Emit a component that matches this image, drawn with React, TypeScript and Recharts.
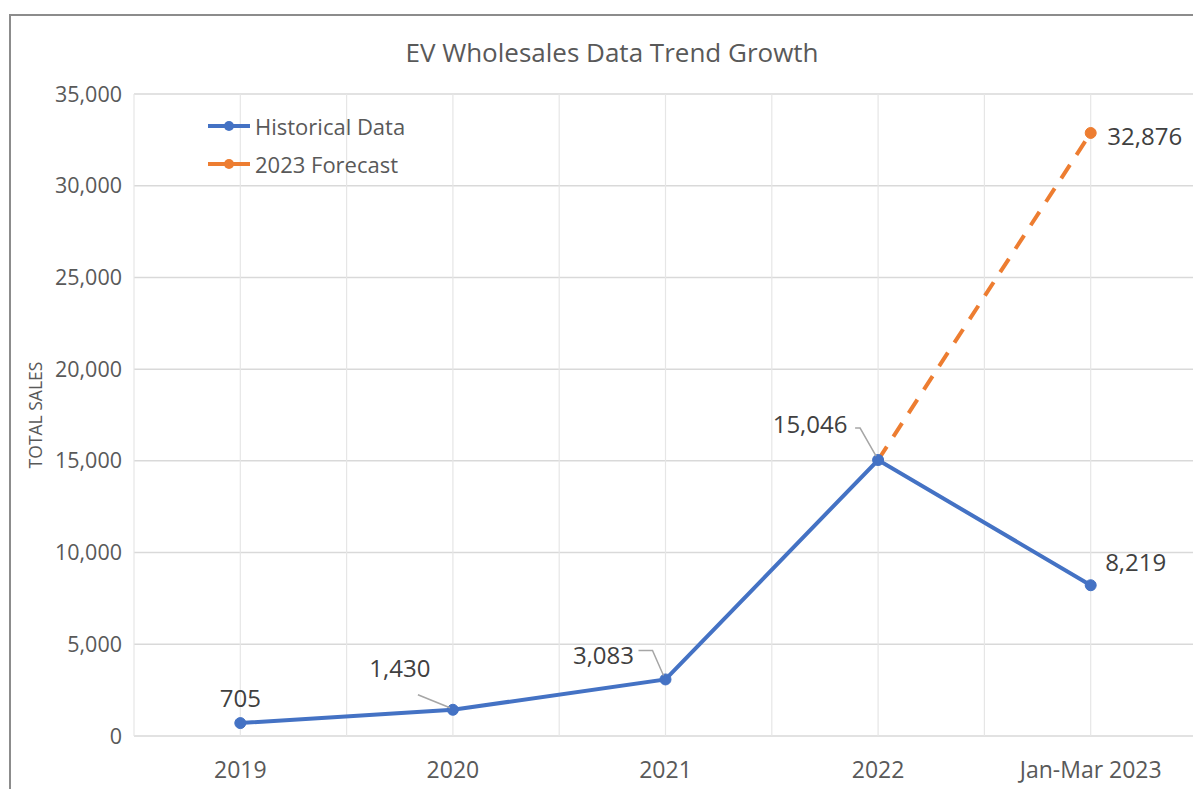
import React from "react";
import { LineChart, Line, XAxis, YAxis, CartesianGrid } from "recharts";

const categories = ["2019", "2020", "2021", "2022", "Jan-Mar 2023"];
const historicalData = [705, 1430, 3083, 15046, 8219];
const forecastData: (number | null)[] = [null, null, null, 15046, 32876];
const yTicks = [0, 5000, 10000, 15000, 20000, 25000, 30000, 35000];
const gridSteps = [-0.5, 0, 0.5, 1, 1.5, 2, 2.5, 3, 3.5, 4, 4.5];
const seriesNames = ["Historical Data", "2023 Forecast"];

const BLUE = "#4472C4";
const ORANGE = "#ED7D31";
const TEXT = "#595959";
const FONT = "'Open Sans', 'Noto Sans', sans-serif";

const data = categories.map((c, i) => ({
  x: i,
  name: c,
  historical: historicalData[i],
  forecast: forecastData[i],
}));

const fmt = (v: number) => v.toLocaleString("en-US");

// label placement (relative offsets) per point index
const histLabelPos: Record<number, { dx: number; dy: number; leader?: number[][] }> = {
  0: { dx: 0, dy: -26 },
  1: { dx: -53, dy: -42, leader: [[-35, -15], [-3, -2]] },
  2: { dx: -62, dy: -25, leader: [[-27, -29], [-13, -29], [-2, -4]] },
  3: { dx: -68, dy: -37, leader: [[-23, -32], [-18, -32], [-2, -4]] },
  4: { dx: 45, dy: -24 },
};
const forecastLabelPos: Record<number, { dx: number; dy: number }> = {
  4: { dx: 54, dy: 3 },
};

const makeLabel = (pos: Record<number, { dx: number; dy: number; leader?: number[][] }>) =>
  (props: any) => {
    const { x, y, value, index } = props;
    const p = pos[index];
    if (!p || value == null) return null;
    return (
      <g>
        {p.leader && (
          <polyline
            points={p.leader.map(([a, b]) => `${x + a},${y + b}`).join(" ")}
            fill="none"
            stroke="#a6a6a6"
            strokeWidth={1.5}
          />
        )}
        <text
          x={x + p.dx}
          y={y + p.dy}
          textAnchor="middle"
          dominantBaseline="central"
          fontSize={24}
          fontFamily={FONT}
          fill="#404040"
        >
          {fmt(value)}
        </text>
      </g>
    );
  };

const HistLabel = makeLabel(histLabelPos);
const ForeLabel = makeLabel(forecastLabelPos);

const forecastDot = (props: any) => {
  const { cx, cy, index } = props;
  if (index !== 4 || cy == null) return <g key={`fd-${index}`} />;
  return <circle key={`fd-${index}`} cx={cx} cy={cy} r={5.5} fill={ORANGE} stroke={ORANGE} />;
};

const LegendBox = () => {
  const colors = [BLUE, ORANGE];
  return (
    <svg width={240} height={80} style={{ display: "block" }}>
      {seriesNames.map((label, i) => (
        <g key={label}>
          <line x1={0} y1={14 + i * 38} x2={42} y2={14 + i * 38} stroke={colors[i]} strokeWidth={4} />
          <circle cx={21} cy={14 + i * 38} r={5} fill={colors[i]} />
          <text
            x={47}
            y={14 + i * 38}
            dominantBaseline="central"
            fontSize={22}
            fontFamily={FONT}
            fill={TEXT}
          >
            {label}
          </text>
        </g>
      ))}
    </svg>
  );
};

const YLabel = (props: any) => {
  const vb = props.viewBox || {};
  const cx = (vb.x || 0) + 27;
  const cy = (vb.y || 0) + (vb.height || 0) / 2;
  return (
    <text
      x={cx}
      y={cy}
      transform={`rotate(-90, ${cx}, ${cy})`}
      textAnchor="middle"
      dominantBaseline="central"
      fontSize={17.5}
      fontFamily={FONT}
      fill={TEXT}
    >
      TOTAL SALES
    </text>
  );
};

export default function App() {
  return (
    <div style={{ position: "relative", width: 1185, height: 781, overflow: "hidden", background: "#fff" }}>
      <div
        style={{
          position: "absolute",
          left: 1,
          top: 6,
          width: 1400,
          height: 900,
          borderLeft: "2px solid #8c8c8c",
          borderTop: "2px solid #8c8c8c",
        }}
      />
      <div
        style={{
          position: "absolute",
          left: 0,
          width: 1208,
          top: 27,
          fontSize: 26,
          lineHeight: "34px",
          textAlign: "center",
          fontFamily: FONT,
          color: TEXT,
        }}
      >
        EV Wholesales Data Trend Growth
      </div>
      <div style={{ position: "absolute", left: 0, top: 0 }}>
        <LineChart width={1193} height={781} data={data} margin={{ top: 86, right: 4, bottom: 0, left: 0 }}>
          <CartesianGrid horizontal={true} vertical={false} stroke="#d9d9d9" strokeWidth={1.5} />
          <CartesianGrid
            horizontal={false}
            vertical={true}
            stroke="#e6e6e6"
            strokeWidth={1.2}
            verticalCoordinatesGenerator={({ offset }: any) =>
              gridSteps.map((s) => offset.left + (offset.width * (s + 0.5)) / categories.length)
            }
          />
          <XAxis
            dataKey="x"
            type="number"
            domain={[-0.5, 4.5]}
            ticks={[0, 1, 2, 3, 4]}
            tickFormatter={(v: number) => categories[v]}
            axisLine={false}
            tickLine={false}
            tickSize={0}
            tickMargin={26}
            height={53}
            tick={{ fontSize: 23, fontFamily: FONT, fill: TEXT }}
            interval={0}
          />
          <YAxis
            type="number"
            domain={[0, 35000]}
            ticks={yTicks}
            tickFormatter={(v: number) => fmt(v)}
            axisLine={false}
            tickLine={false}
            tickSize={0}
            tickMargin={12}
            width={126}
            tick={{ fontSize: 21.5, fontFamily: FONT, fill: TEXT }}
            label={<YLabel />}
            interval={0}
          />
          <Line
            type="linear"
            dataKey="forecast"
            name={seriesNames[1]}
            stroke={ORANGE}
            strokeWidth={4}
            strokeDasharray="16 12"
            dot={forecastDot}
            activeDot={false}
            isAnimationActive={false}
            label={ForeLabel}
            connectNulls={false}
          />
          <Line
            type="linear"
            dataKey="historical"
            name={seriesNames[0]}
            stroke={BLUE}
            strokeWidth={4}
            dot={{ r: 5.5, fill: BLUE, stroke: BLUE, strokeWidth: 1 }}
            activeDot={false}
            isAnimationActive={false}
            label={HistLabel}
          />
        </LineChart>
      </div>
      <div style={{ position: "absolute", left: 200, top: 104 }}>
        <LegendBox />
      </div>
    </div>
  );
}
